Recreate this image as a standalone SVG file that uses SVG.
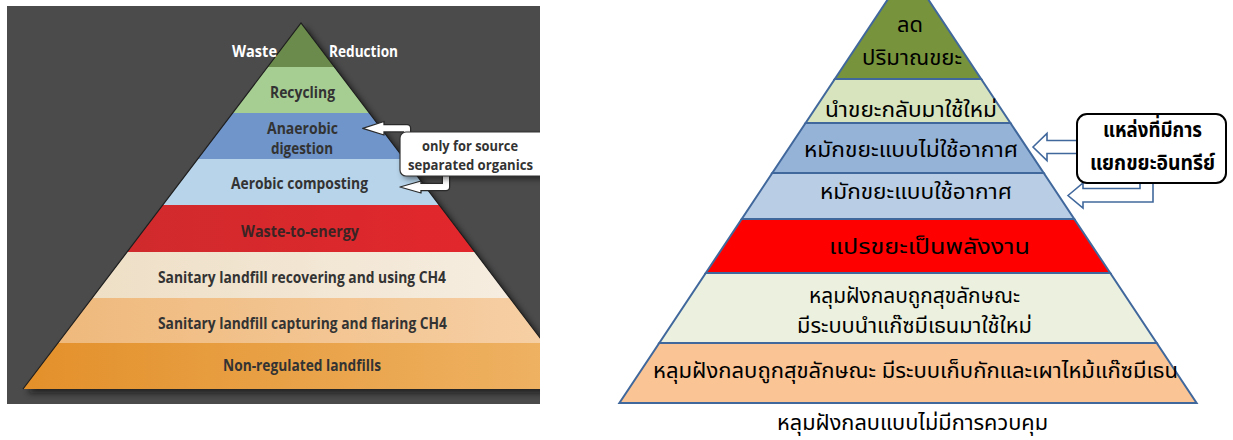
<svg xmlns="http://www.w3.org/2000/svg" width="1233" height="440" viewBox="0 0 1233 440">
<defs>
<style>
.en{font-family:"Open Sans",Lato,"Liberation Sans",sans-serif;font-weight:bold;font-size:15.5px;fill:#333;text-anchor:middle}
.wh{fill:#fff;font-size:16.5px}
.th{font-family:"Noto Sans Thai","Noto Serif Thai","Noto Sans","DejaVu Sans",sans-serif;font-size:22px;fill:#000;text-anchor:middle}
.rb{fill-opacity:1;stroke:#41689c;stroke-width:2;stroke-linejoin:miter}
.lb{stroke:none}
</style>
<clipPath id="lclip"><rect x="7" y="6" width="533" height="398"/></clipPath>
<filter id="sh" x="-10%" y="-10%" width="130%" height="130%"><feGaussianBlur stdDeviation="3"/></filter>
<linearGradient id="gOr" x1="0" x2="1" y1="0" y2="0"><stop offset="0" stop-color="#e3902a"/><stop offset="1" stop-color="#efb466"/></linearGradient>
<linearGradient id="gCap" x1="0" x2="1" y1="0" y2="0"><stop offset="0" stop-color="#efb97c"/><stop offset="1" stop-color="#f6cfa4"/></linearGradient>
<linearGradient id="gRec" x1="0" x2="1" y1="0" y2="0"><stop offset="0" stop-color="#eedfc6"/><stop offset="1" stop-color="#f6ede0"/></linearGradient>
<linearGradient id="gRed" x1="0" x2="1" y1="0" y2="0"><stop offset="0" stop-color="#d02a2d"/><stop offset="1" stop-color="#e2272c"/></linearGradient>
</defs>

<!-- left panel -->
<g id="left-panel">
<rect x="7" y="6" width="533" height="398" fill="#4b4b4b"/>
<g clip-path="url(#lclip)">
<polygon points="305,27 27,393 583,393" fill="#111" opacity="0.7" filter="url(#sh)"/>
<g id="l-reduction"><polygon class="lb" points="301,23 267.6,67 334.4,67" fill="#6a8b4b"/></g>
<g id="l-recycling"><polygon class="lb" points="267.6,67 334.4,67 369.4,113 232.6,113" fill="#a6cd92"/></g>
<g id="l-anaerobic"><polygon class="lb" points="232.6,113 369.4,113 404.3,159 197.7,159" fill="#6f95cb"/></g>
<g id="l-aerobic"><polygon class="lb" points="197.7,159 404.3,159 439.2,205 162.8,205" fill="#b7d4ea"/></g>
<g id="l-wte"><polygon class="lb" points="162.8,205 439.2,205 474.9,252 127.1,252" fill="url(#gRed)"/></g>
<g id="l-recovering"><polygon class="lb" points="127.1,252 474.9,252 509.9,298 92.1,298" fill="url(#gRec)"/></g>
<g id="l-capturing"><polygon class="lb" points="92.1,298 509.9,298 544.1,343 57.9,343" fill="url(#gCap)"/></g>
<g id="l-nonreg"><polygon class="lb" points="57.9,343 544.1,343 579,389 23,389" fill="url(#gOr)"/></g>
<polyline points="23,389 301,23 579,389" fill="none" stroke="#1e1e1e" stroke-width="1.2"/>
</g>
<text class="en wh" x="254.5" y="57" textLength="45" lengthAdjust="spacingAndGlyphs">Waste</text>
<text class="en wh" x="363.5" y="57" textLength="69" lengthAdjust="spacingAndGlyphs">Reduction</text>
<text class="en" x="302.5" y="97.5" textLength="65" lengthAdjust="spacingAndGlyphs">Recycling</text>
<text class="en" x="302.5" y="133.5" textLength="71" lengthAdjust="spacingAndGlyphs">Anaerobic</text>
<text class="en" x="302" y="154" textLength="62" lengthAdjust="spacingAndGlyphs">digestion</text>
<text class="en" x="299.5" y="188.5" textLength="137" lengthAdjust="spacingAndGlyphs">Aerobic composting</text>
<text class="en" x="300" y="236.5" textLength="118" lengthAdjust="spacingAndGlyphs" style="fill:#3a2424">Waste-to-energy</text>
<text class="en" x="302" y="282.5" textLength="288" lengthAdjust="spacingAndGlyphs">Sanitary landfill recovering and using CH4</text>
<text class="en" x="302.5" y="328.5" textLength="289" lengthAdjust="spacingAndGlyphs">Sanitary landfill capturing and flaring CH4</text>
<text class="en" x="302" y="370.5" textLength="158" lengthAdjust="spacingAndGlyphs">Non-regulated landfills</text>
</g>

<!-- right pyramid -->
<g id="right-pyramid">
<g id="r-reduce"><polygon class="rb" points="908,-31 981.15,79 834.85,79" fill="#77933c"/></g>
<g id="r-recycle"><polygon class="rb" points="834.85,79 981.15,79 1010.4,123 805.6,123" fill="#d7e4bd"/></g>
<g id="r-anaerobic"><polygon class="rb" points="805.6,123 1010.4,123 1043.7,173 772.3,173" fill="#95b3d7"/></g>
<g id="r-aerobic"><polygon class="rb" points="772.3,173 1043.7,173 1074.25,219 741.75,219" fill="#b9cde5"/></g>
<g id="r-wte"><polygon class="rb" points="741.75,219 1074.25,219 1110.2,273 705.8,273" fill="#ff0000"/></g>
<g id="r-recovering"><polygon class="rb" points="705.8,273 1110.2,273 1156.7,343 659.3,343" fill="#ebf1de"/></g>
<g id="r-capturing"><polygon class="rb" points="659.3,343 1156.7,343 1196.6,403 619.4,403" fill="#fac494"/></g>
<text class="th" x="910" y="32" textLength="26" lengthAdjust="spacingAndGlyphs">ลด</text>
<text class="th" x="912" y="65" textLength="100" lengthAdjust="spacingAndGlyphs">ปริมาณขยะ</text>
<text class="th" x="911" y="117" textLength="172" lengthAdjust="spacingAndGlyphs">นำขยะกลับมาใช้ใหม่</text>
<text class="th" x="911" y="157" textLength="214" lengthAdjust="spacingAndGlyphs">หมักขยะแบบไม่ใช้อากาศ</text>
<text class="th" x="916" y="199" textLength="192" lengthAdjust="spacingAndGlyphs">หมักขยะแบบใช้อากาศ</text>
<text class="th" x="929.5" y="254" textLength="201" lengthAdjust="spacingAndGlyphs">แปรขยะเป็นพลังงาน</text>
<text class="th" x="914.5" y="303" textLength="211" lengthAdjust="spacingAndGlyphs">หลุมฝังกลบถูกสุขลักษณะ</text>
<text class="th" x="914.5" y="333" textLength="235" lengthAdjust="spacingAndGlyphs">มีระบบนำแก๊ซมีเธนมาใช้ใหม่</text>
<text class="th" x="915.5" y="378" textLength="525" lengthAdjust="spacingAndGlyphs">หลุมฝังกลบถูกสุขลักษณะ มีระบบเก็บกักและเผาไหม้แก๊ซมีเธน</text>
</g>
<g id="r-uncontrolled">
<text class="th" x="912.5" y="430" textLength="271" lengthAdjust="spacingAndGlyphs">หลุมฝังกลบแบบไม่มีการควบคุม</text>
</g>

<!-- connectors -->
<g id="connectors">
<g id="l-arrow-up">
<path d="M407,134 L407,128.3 L383,128.3" fill="none" stroke="#2a2a2a" stroke-width="8.5" stroke-linejoin="round"/>
<polygon points="384,121.5 362.7,128.3 384,135" fill="#fff" stroke="#2a2a2a" stroke-width="1.3" stroke-linejoin="round"/>
<path d="M407,134 L407,128.3 L382,128.3" fill="none" stroke="#fff" stroke-width="6" stroke-linejoin="round"/>
</g>
<g id="l-arrow-down">
<path d="M446,174 L446,187 L420,187" fill="none" stroke="#2a2a2a" stroke-width="8.5" stroke-linejoin="round"/>
<polygon points="421,181 400,187 421,193" fill="#fff" stroke="#2a2a2a" stroke-width="1.3" stroke-linejoin="round"/>
<path d="M446,174 L446,187 L419,187" fill="none" stroke="#fff" stroke-width="6" stroke-linejoin="round"/>
</g>
<g id="r-arrow-up">
<polygon points="1033,147 1047,133.5 1047,140.5 1078,140.5 1078,153.5 1047,153.5 1047,160.5" fill="#fff" stroke="#41689c" stroke-width="1.6"/>
</g>
<g id="r-arrow-down">
<polygon points="1068,195.5 1083,183 1083,188.5 1140,188.5 1140,180 1153,180 1153,202 1083,202 1083,208" fill="#fff" stroke="#41689c" stroke-width="1.6"/>
</g>
</g>

<!-- callouts -->
<g id="l-callout">
<rect x="403" y="135" width="150" height="44" rx="6" fill="#000" opacity="0.5" filter="url(#sh)" clip-path="url(#lclip)"/>
<rect x="400" y="132" width="150" height="44" rx="6" fill="#fff" stroke="#333" stroke-width="1.2" clip-path="url(#lclip)"/>
<text class="en" x="470" y="151" style="font-size:14.5px" textLength="96" lengthAdjust="spacingAndGlyphs">only for source</text>
<text class="en" x="470.5" y="170" style="font-size:14.5px" textLength="125" lengthAdjust="spacingAndGlyphs">separated organics</text>
</g>
<g id="r-callout">
<rect x="1077" y="114" width="149" height="69" rx="10" fill="#fff" stroke="#000" stroke-width="2"/>
<text class="th" x="1152.5" y="137" style="font-weight:bold" textLength="99" lengthAdjust="spacingAndGlyphs">แหล่งที่มีการ</text>
<text class="th" x="1152.5" y="170" style="font-weight:bold" textLength="125" lengthAdjust="spacingAndGlyphs">แยกขยะอินทรีย์</text>
</g>
</svg>
